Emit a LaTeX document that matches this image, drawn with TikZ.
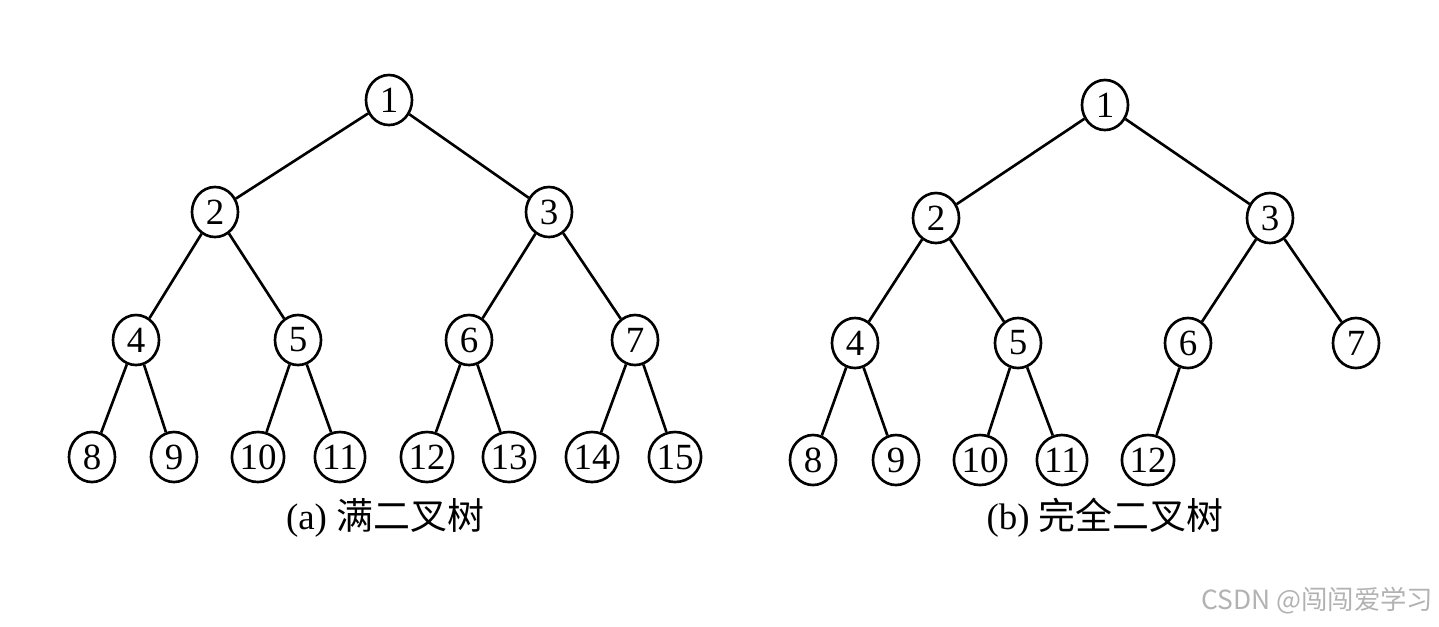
\documentclass[tikz,border=0pt]{standalone}
\usepackage{fontspec}
\setmainfont{Liberation Serif}
\newfontfamily\cjk{Noto Sans CJK SC}
\usetikzlibrary{shapes.geometric}

\begin{document}
\begin{tikzpicture}[
        x=0.01cm, y=-0.01cm,
        vertex/.style={draw, ellipse, line width=0.75pt, minimum width=0.46cm, minimum height=0.5cm, inner sep=0pt, font=\fontsize{10.5}{12}\selectfont},
        edge/.style={line width=0.75pt},
        caption/.style={font=\fontsize{10.5}{12}\selectfont},
        wmark/.style={text=black!30, font=\cjk\fontsize{7.5}{9}\selectfont}
      ]
      \useasboundingbox (0,0) rectangle (1439,626);
      % (a) full binary tree
      \node[vertex] (a1) at (389,100) {1};
      \node[vertex] (a2) at (215,212) {2};
      \node[vertex] (a3) at (549,212) {3};
      \node[vertex] (a4) at (136,340) {4};
      \node[vertex] (a5) at (298,340) {5};
      \node[vertex] (a6) at (469,340) {6};
      \node[vertex] (a7) at (635,340) {7};
      \node[vertex] (a8) at (92,457) {8};
      \node[vertex] (a9) at (174,457) {9};
      \node[vertex] (a10) at (258,457) {10};
      \node[vertex] (a11) at (340,457) {11};
      \node[vertex] (a12) at (427,457) {12};
      \node[vertex] (a13) at (509,457) {13};
      \node[vertex] (a14) at (592,457) {14};
      \node[vertex] (a15) at (675,457) {15};
      \draw[edge] (a1) -- (a2);
      \draw[edge] (a1) -- (a3);
      \draw[edge] (a2) -- (a4);
      \draw[edge] (a2) -- (a5);
      \draw[edge] (a3) -- (a6);
      \draw[edge] (a3) -- (a7);
      \draw[edge] (a4) -- (a8);
      \draw[edge] (a4) -- (a9);
      \draw[edge] (a5) -- (a10);
      \draw[edge] (a5) -- (a11);
      \draw[edge] (a6) -- (a12);
      \draw[edge] (a6) -- (a13);
      \draw[edge] (a7) -- (a14);
      \draw[edge] (a7) -- (a15);
      \node[caption] (capa) at (385,518) {(a) {\cjk 满二叉树}};
      % (b) complete binary tree
      \node[vertex] (b1) at (1105,105) {1};
      \node[vertex] (b2) at (936,218) {2};
      \node[vertex] (b3) at (1270,218) {3};
      \node[vertex] (b4) at (855,343) {4};
      \node[vertex] (b5) at (1018,343) {5};
      \node[vertex] (b6) at (1188,343) {6};
      \node[vertex] (b7) at (1356,343) {7};
      \node[vertex] (b8) at (813,460) {8};
      \node[vertex] (b9) at (896,460) {9};
      \node[vertex] (b10) at (980,460) {10};
      \node[vertex] (b11) at (1062,460) {11};
      \node[vertex] (b12) at (1148,460) {12};
      \draw[edge] (b1) -- (b2);
      \draw[edge] (b1) -- (b3);
      \draw[edge] (b2) -- (b4);
      \draw[edge] (b2) -- (b5);
      \draw[edge] (b3) -- (b6);
      \draw[edge] (b3) -- (b7);
      \draw[edge] (b4) -- (b8);
      \draw[edge] (b4) -- (b9);
      \draw[edge] (b5) -- (b10);
      \draw[edge] (b5) -- (b11);
      \draw[edge] (b6) -- (b12);
      \node[caption] (capb) at (1105,518) {(b) {\cjk 完全二叉树}};
      \node[wmark, anchor=east, inner sep=0pt] (wm) at (1434,601) {CSDN @闯闯爱学习};
    \end{tikzpicture}
\end{document}
